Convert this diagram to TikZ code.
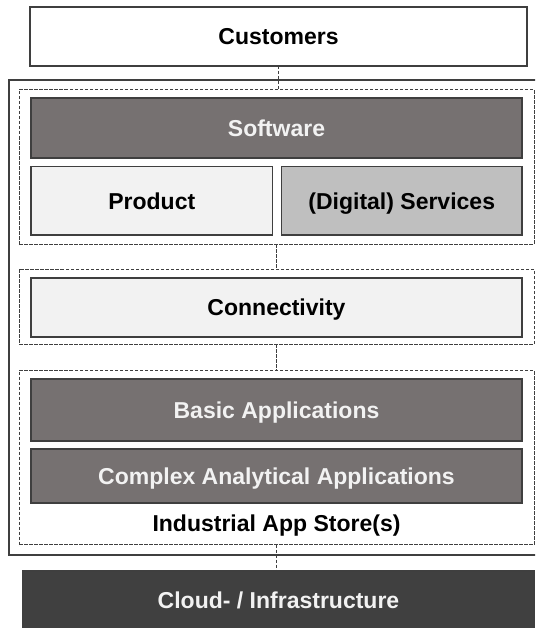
\documentclass[tikz,border=0pt]{standalone}
\usepackage{fontspec}
\setmainfont{Liberation Sans}
\usetikzlibrary{positioning}
\definecolor{appgray}{HTML}{767171}
\definecolor{lightfill}{HTML}{F2F2F2}
\definecolor{servfill}{HTML}{BFBFBF}
\definecolor{cloudfill}{HTML}{404040}
\definecolor{edgegray}{HTML}{3F3F3F}

\begin{document}
\begin{tikzpicture}[x=1pt, y=-1pt,
  box/.style={draw=edgegray, line width=1.2pt, inner sep=0pt, outer sep=0pt, anchor=north west, align=center, text height=16.5pt, text depth=0pt, font=\fontsize{23}{27}\selectfont\bfseries},
  darkbox/.style={box, fill=appgray, text=lightfill, minimum width=491pt},
  lightbox/.style={box, fill=lightfill, text=black},
  grp/.style={draw=edgegray, line width=1pt, dash pattern=on 3.5pt off 1.5pt, inner sep=0pt, outer sep=0pt, anchor=north west, minimum width=515pt},
  link/.style={draw=edgegray, line width=1pt, dash pattern=on 3.5pt off 1.5pt},
  label/.style={font=\fontsize{23}{27}\selectfont\bfseries, text height=16.5pt, text depth=0pt}
]
\clip (0,0) rectangle (535,628);

\node[box, fill=white, minimum width=497pt, minimum height=59pt] (customers) at (30,7) {Customers};

\node[draw=edgegray, line width=1.6pt, inner sep=0pt, outer sep=0pt, anchor=north west, minimum width=531pt, minimum height=475pt] (platform) at (9,80) {};

\node[grp, minimum height=154pt] (grp1) at (19,90) {};
\node[darkbox, minimum height=60pt] (software) at (31,98) {Software};
\node[lightbox, minimum width=241.5pt, minimum height=68.5pt, below=8.5pt of software.south west, anchor=north west] (product) {Product};
\node[box, fill=servfill, minimum width=240.5pt, minimum height=68.5pt, right=9pt of product.north east, anchor=north west] (services) {(Digital) Services};

\node[grp, minimum height=75pt] (grp2) at (19,269) {};
\node[lightbox, minimum width=491pt, minimum height=59pt] (connectivity) at (31,278) {Connectivity};

\node[grp, minimum height=174pt] (grp3) at (19,370.5) {};
\node[darkbox, minimum height=62pt] (basic) at (31,379) {Basic Applications};
\node[darkbox, minimum height=54pt, below=8pt of basic.south west, anchor=north west] (complex) {Complex Analytical Applications};
\node[label] (store) at (276.5,523) {Industrial App Store(s)};

\node[box, fill=cloudfill, text=lightfill, minimum width=511pt, minimum height=58pt] (cloud) at (23,571) {Cloud- / Infrastructure};

\draw[link] (customers.south) -- (customers.south |- grp1.north);
\draw[link] (grp1.south) -- (grp2.north);
\draw[link] (grp2.south) -- (grp3.north);
\draw[link] (grp3.south) -- (grp3.south |- cloud.north);

\end{tikzpicture}
\end{document}
